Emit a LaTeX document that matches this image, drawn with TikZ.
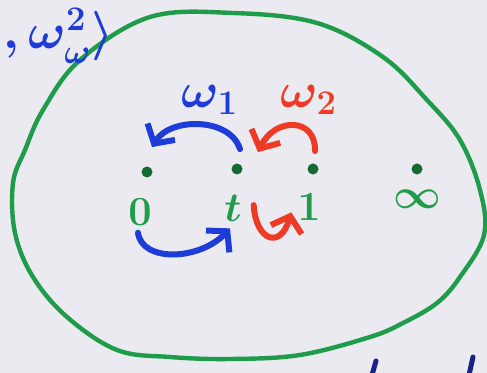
\documentclass[tikz,border=0pt]{standalone}
\usetikzlibrary{arrows.meta,positioning}
\definecolor{PenGreen}{HTML}{1E9C4A}
\definecolor{DotGreen}{HTML}{146A32}
\definecolor{InkBlue}{HTML}{1E3CD8}
\definecolor{InkRed}{HTML}{EE3B26}
\definecolor{InkNavy}{HTML}{1B2380}
\definecolor{Paper}{HTML}{EBEAF1}

\begin{document}
\begin{tikzpicture}[x=0.5pt, y=-0.5pt,
  dot/.style={circle, fill=DotGreen, inner sep=0pt, minimum size=5.5pt},
  lbl/.style={text=PenGreen, font=\fontsize{20}{20}\selectfont\boldmath},
  wlbl/.style={font=\fontsize{26}{26}\selectfont\boldmath},
  arr/.style={line width=3pt, line cap=round, line join=round,
              -{Straight Barb[length=7pt, width=16pt]}}
]
  \fill[Paper] (0,0) rectangle (487,373);
  \useasboundingbox (0,0) rectangle (487,373);
  \clip (0,0) rectangle (487,373);

  % the disc
  \draw[PenGreen, line width=2.2pt] plot[smooth cycle, tension=0.6] coordinates {
    (233,13) (317,23) (383,57) (427,100) (460,140) (480,190) (484,235)
    (460,277) (437,303) (403,323) (370,337) (300,355) (230,359) (170,357)
    (117,350) (67,317) (33,277) (15,233) (13,183) (25,150) (43,110)
    (80,60) (150,17)};

  % points
  \node[dot] (p0)   at (147,172) {};
  \node[dot] (pt)   at (237,169) {};
  \node[dot] (p1)   at (313,169) {};
  \node[dot] (pinf) at (417,169) {};
  \node[lbl, below=7pt of p0, xshift=-3.5pt] (l0) {$0$};
  \node[lbl, below=6.5pt of pt, xshift=-2pt] (lt) {$t$};
  \node[lbl, below=6pt of p1, xshift=-2pt] (l1) {$1$};
  \node[lbl, below=4pt of pinf] (linf) {$\infty$};

  % monodromies
  \node[wlbl, text=InkBlue] (w1) at (210,100) {$\omega_1$};
  \node[wlbl, text=InkRed]  (w2) at (309,100) {$\omega_2$};
  \draw[arr, InkBlue] ([xshift=1.5pt, yshift=7pt]pt.north)
    .. controls +(-10,-32) and +(18,-30) .. ([xshift=2.5pt, yshift=9.5pt]p0.north);
  \draw[arr, InkRed] ([xshift=1pt, yshift=6pt]p1.north)
    .. controls +(1,-34) and +(17,-35) .. ([xshift=10.5pt, yshift=5.5pt]pt.north);
  \draw[arr, InkBlue] ([xshift=-1pt]l0.south)
    .. controls +(4,30) and +(-30,32) .. ([xshift=-1.5pt]lt.south);
  \draw[arr, InkRed] ([xshift=2.5pt, yshift=1.5pt]lt.east)
    .. controls +(2,35) and +(-11,38) .. ([xshift=0.5pt, yshift=-2.5pt]l1.west);

  % writing at the edges
  \node[wlbl, text=InkBlue, anchor=east, inner sep=1pt] (hdr) at (116,36)
    {$,\omega_{\omega}^{2}\rangle$};
  \draw[InkNavy, line width=2.5pt, line cap=round] (376,361) -- (372,375);
  \draw[InkNavy, line width=2.5pt, line cap=round] (473,357) -- (469,375);
\end{tikzpicture}
\end{document}
